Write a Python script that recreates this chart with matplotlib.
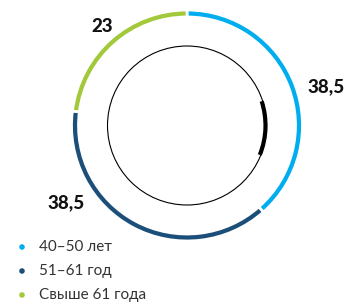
import matplotlib
matplotlib.use("Agg")
import matplotlib.pyplot as plt
from matplotlib.patches import Circle, Arc

# data
categories = ["40–50 лет", "51–61 год", "Свыше 61 года"]
values = [38.5, 38.5, 23]
value_labels = ["38,5", "38,5", "23"]
colors = ["#00AEEF", "#1B4F79", "#A2C93A"]

plt.rcParams["font.family"] = ["Lato", "DejaVu Sans"]

W, H = 351, 304
fig = plt.figure(figsize=(W / 100, H / 100), dpi=100)
ax = fig.add_axes([0, 0, 1, 1])
ax.axis("off")

cx, cy = 187, H - 125.5
ax.pie(values, colors=colors, radius=115.5, center=(cx, cy), startangle=90,
       counterclock=False,
       wedgeprops=dict(width=7, edgecolor="white", linewidth=2))
ax.set_xlim(0, W)
ax.set_ylim(0, H)
ax.set_aspect("equal")

# inner circle with black marker arc
ax.add_patch(Circle((cx, cy), 79.5, fill=False, lw=0.8, ec="black"))
ax.add_patch(Arc((cx, cy), 2 * 78.5, 2 * 78.5, theta1=-22, theta2=18,
                 lw=3, color="black"))

# value labels
label_pos = [(326, H - 87), (66, H - 203), (102, H - 26)]
for (x, y), txt in zip(label_pos, value_labels):
    ax.text(x, y, txt, fontsize=13.5, fontweight="black", ha="center",
            va="center", color="#111111")

# legend
for i, (cat, col) in enumerate(zip(categories, colors)):
    y = H - (247 + 24 * i)
    ax.scatter([22], [y], s=16, color=col, edgecolors="none")
    ax.text(39, y, cat, fontsize=11, va="center", ha="left", color="#333333")

fig.savefig("out.png", dpi=100)
